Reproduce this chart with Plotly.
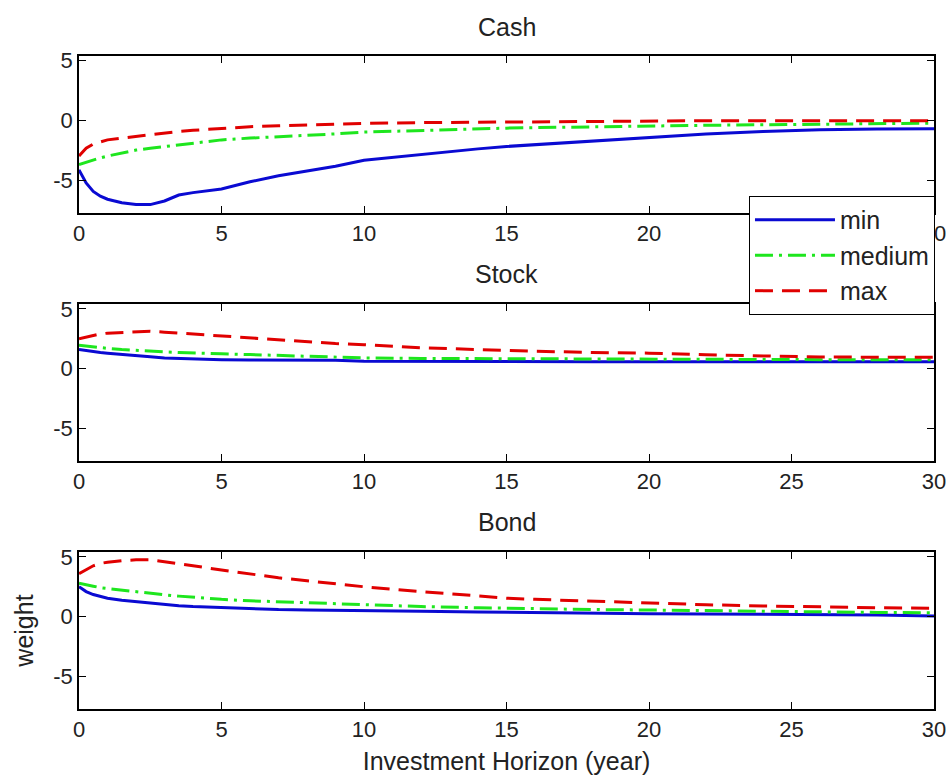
import plotly.graph_objects as go
from plotly.subplots import make_subplots

horizon = [0, 0.25, 0.5, 0.75, 1, 1.5, 2, 2.5, 3, 3.5, 4, 5, 6, 7, 8, 9, 10,
           12, 14, 15, 16, 18, 20, 22, 24, 25, 26, 28, 30]

cash_min = [-4.1, -5.2, -5.9, -6.3, -6.55, -6.85, -7.0, -7.0, -6.7, -6.2, -6.0, -5.7,
            -5.1, -4.6, -4.2, -3.8, -3.3, -2.8, -2.35, -2.15, -2.0, -1.65, -1.35,
            -1.1, -0.9, -0.82, -0.75, -0.7, -0.67]
cash_medium = [-3.65, -3.45, -3.25, -3.1, -2.95, -2.7, -2.45, -2.3, -2.15, -2.0, -1.85,
               -1.6, -1.45, -1.35, -1.25, -1.1, -0.95, -0.8, -0.68, -0.62, -0.58, -0.5,
               -0.43, -0.38, -0.34, -0.32, -0.3, -0.25, -0.2]
cash_max = [-2.95, -2.3, -1.95, -1.75, -1.6, -1.45, -1.3, -1.15, -1.0, -0.9, -0.8,
            -0.62, -0.5, -0.42, -0.35, -0.28, -0.22, -0.16, -0.12, -0.1, -0.08, -0.05,
            -0.02, 0, 0, 0, 0, 0, 0]

stock_min = [1.6, 1.5, 1.42, 1.36, 1.3, 1.18, 1.08, 1.0, 0.9, 0.85, 0.8, 0.75, 0.72,
             0.72, 0.7, 0.7, 0.62, 0.6, 0.6, 0.6, 0.6, 0.59, 0.59, 0.59, 0.58, 0.58,
             0.58, 0.58, 0.58]
stock_medium = [1.95, 1.88, 1.8, 1.74, 1.7, 1.6, 1.52, 1.46, 1.4, 1.35, 1.3, 1.25,
                1.18, 1.12, 1.0, 0.95, 0.9, 0.86, 0.84, 0.83, 0.82, 0.8, 0.77, 0.76,
                0.75, 0.75, 0.75, 0.74, 0.74]
stock_max = [2.5, 2.65, 2.8, 2.9, 2.97, 3.04, 3.1, 3.12, 3.05, 2.97, 2.9, 2.78, 2.6,
             2.45, 2.25, 2.1, 2.0, 1.75, 1.6, 1.52, 1.46, 1.36, 1.3, 1.16, 1.05, 1.0,
             0.98, 0.96, 0.95]

bond_min = [2.5, 2.1, 1.85, 1.67, 1.55, 1.38, 1.25, 1.12, 1.0, 0.92, 0.85, 0.75, 0.67,
            0.6, 0.57, 0.53, 0.5, 0.45, 0.4, 0.37, 0.3, 0.27, 0.24, 0.22, 0.2, 0.2,
            0.18, 0.15, 0.06]
bond_medium = [2.8, 2.7, 2.55, 2.42, 2.35, 2.2, 2.07, 1.95, 1.83, 1.72, 1.62, 1.45,
               1.33, 1.25, 1.18, 1.05, 0.97, 0.85, 0.75, 0.7, 0.67, 0.6, 0.56, 0.5,
               0.45, 0.42, 0.4, 0.36, 0.33]
bond_max = [3.6, 3.95, 4.25, 4.45, 4.55, 4.68, 4.75, 4.75, 4.6, 4.4, 4.25, 3.9, 3.55,
            3.25, 3.0, 2.75, 2.5, 2.1, 1.75, 1.55, 1.45, 1.3, 1.12, 1.0, 0.9, 0.85,
            0.8, 0.75, 0.7]

panel_titles = ["Cash", "Stock", "Bond"]
series_names = ["min", "medium", "max"]
x_ticks = [0, 5, 10, 15, 20, 25, 30]
y_ticks = [-5, 0, 5]
y_tick_labels = ["-5", "0", "5"]

panels = [
    (cash_min, cash_medium, cash_max),
    (stock_min, stock_medium, stock_max),
    (bond_min, bond_medium, bond_max),
]

colors = ["#0a0ad2", "#1ee61e", "#e00000"]
dashes = ["solid", "18px,6px,3px,6px", "18px,9px"]

FONT = "Liberation Sans, Arial, sans-serif"
TXT = "#222"

fig = make_subplots(rows=3, cols=1, shared_xaxes=False)

for r, series in enumerate(panels, start=1):
    for k, vals in enumerate(series):
        fig.add_trace(go.Scatter(
            x=horizon, y=vals, mode="lines", name=series_names[k],
            line=dict(color=colors[k], width=3, dash=dashes[k]),
            showlegend=(r == 1),
        ), row=r, col=1)

domains = [[0.7596, 1.0], [0.3798, 0.6202], [0.0, 0.2404]]
for r in range(1, 4):
    xa = "xaxis" if r == 1 else f"xaxis{r}"
    ya = "yaxis" if r == 1 else f"yaxis{r}"
    fig.layout[xa].update(
        range=[0, 30], tickvals=x_ticks, ticks="inside", ticklen=7,
        showline=True, linecolor="black", linewidth=1.5, mirror="ticks",
        showgrid=False, zeroline=False, tickcolor="black", automargin=False,
        tickfont=dict(family=FONT, size=22, color=TXT),
    )
    fig.layout[ya].update(
        range=[-7.7, 5.4], tickvals=y_ticks, ticktext=y_tick_labels,
        ticks="inside", ticklen=7,
        showline=True, linecolor="black", linewidth=1.5, mirror="ticks",
        showgrid=False, zeroline=False, tickcolor="black", domain=domains[r - 1],
        automargin=False,
        tickfont=dict(family=FONT, size=22, color=TXT),
    )

fig.layout.xaxis3.title = dict(text="Investment Horizon (year)", standoff=11,
                               font=dict(family=FONT, size=25, color=TXT))
fig.layout.yaxis3.title = dict(text="weight", standoff=13,
                               font=dict(family=FONT, size=25, color=TXT))

title_y = [1.045, 0.666, 0.286]
for t, yy in zip(panel_titles, title_y):
    fig.add_annotation(text=t, x=0.5, y=yy, xref="paper", yref="paper",
                       showarrow=False, yanchor="middle",
                       font=dict(family=FONT, size=25, color=TXT))

fig.update_layout(
    width=949, height=782,
    margin=dict(l=79, r=15, t=56, b=73, autoexpand=False),
    paper_bgcolor="white", plot_bgcolor="white",
    legend=dict(
        x=0.7836, y=0.7857, xanchor="left", yanchor="top",
        bgcolor="white", bordercolor="black", borderwidth=1,
        font=dict(family=FONT, size=25, color=TXT),
        itemwidth=80, tracegroupgap=0,
        entrywidth=240, entrywidthmode="pixels",
    ),
)

fig.write_html(
    "out.html",
    config={"displayModeBar": False},
    post_script="document.body.style.margin='0';"
                "document.documentElement.style.overflow='hidden';",
)
